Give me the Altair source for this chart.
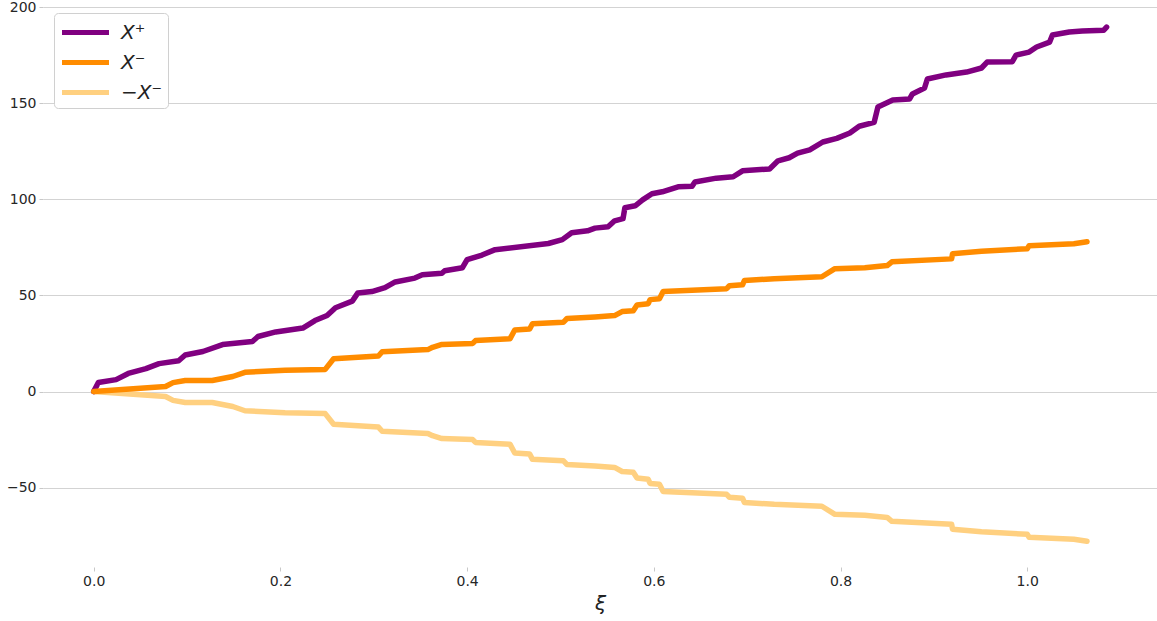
import altair as alt
import pandas as pd

# Cumulative processes against xi
xi_plus = [0.0, 0.005, 0.024, 0.037, 0.056, 0.070, 0.091, 0.098, 0.117, 0.138,
           0.170, 0.176, 0.195, 0.224, 0.237, 0.250, 0.259, 0.277, 0.283, 0.298,
           0.312, 0.323, 0.344, 0.352, 0.373, 0.376, 0.395, 0.400, 0.416, 0.430,
           0.487, 0.502, 0.512, 0.529, 0.537, 0.551, 0.558, 0.567, 0.569, 0.580,
           0.588, 0.598, 0.609, 0.626, 0.641, 0.644, 0.667, 0.685, 0.695, 0.724,
           0.733, 0.745, 0.754, 0.767, 0.781, 0.796, 0.810, 0.820, 0.836, 0.840,
           0.856, 0.874, 0.877, 0.890, 0.893, 0.913, 0.935, 0.951, 0.957, 0.984,
           0.988, 1.002, 1.010, 1.024, 1.027, 1.045, 1.059, 1.082, 1.085]
x_plus = [0.0, 4.7, 6.2, 9.4, 11.9, 14.5, 16.0, 19.0, 20.8, 24.4,
          26.0, 28.6, 31.0, 33.0, 36.9, 39.5, 43.6, 47.0, 51.3, 52.0,
          54.0, 57.0, 59.0, 60.7, 61.5, 62.8, 64.4, 68.6, 71.0, 73.8,
          77.0, 79.0, 82.6, 83.6, 85.0, 85.7, 88.8, 89.9, 95.6, 96.6,
          99.7, 102.9, 103.9, 106.5, 106.8, 109.0, 111.0, 111.7, 114.8, 115.8,
          120.0, 121.6, 124.0, 125.7, 129.8, 131.7, 134.5, 138.0, 140.0, 148.0,
          151.7, 152.2, 154.8, 157.9, 162.6, 164.7, 166.2, 168.3, 171.4, 171.6,
          175.0, 176.6, 179.2, 181.8, 185.5, 187.0, 187.5, 188.0, 189.6]

xi_minus = [0.0, 0.077, 0.085, 0.098, 0.127, 0.149, 0.162, 0.205, 0.248, 0.257,
            0.305, 0.309, 0.358, 0.363, 0.373, 0.406, 0.409, 0.446, 0.451, 0.467,
            0.470, 0.503, 0.507, 0.537, 0.558, 0.566, 0.578, 0.582, 0.594, 0.596,
            0.606, 0.610, 0.678, 0.681, 0.695, 0.697, 0.729, 0.780, 0.794, 0.826,
            0.850, 0.855, 0.919, 0.920, 0.951, 1.000, 1.002, 1.050, 1.064]
x_minus = [0.0, 2.6, 4.6, 5.7, 5.7, 7.8, 10.0, 11.0, 11.5, 17.0,
           18.5, 20.7, 21.8, 23.0, 24.5, 25.0, 26.5, 27.5, 32.0, 32.5,
           35.3, 36.0, 38.0, 38.8, 39.5, 41.6, 42.0, 45.0, 45.7, 47.8,
           48.2, 52.0, 53.5, 55.0, 55.5, 57.7, 58.7, 59.7, 63.9, 64.4,
           65.5, 67.5, 69.0, 71.7, 73.0, 74.3, 75.8, 76.9, 77.9]

names = ["X⁺", "X⁻", "−X⁻"]
colors = ["#800080", "#ff8c00", "#ffd080"]


def frame(name, xs, ys):
    return pd.DataFrame({"series": name, "xi": xs, "value": ys,
                         "idx": list(range(len(xs)))})


df_plus = frame(names[0], xi_plus, x_plus)
df_minus = frame(names[1], xi_minus, x_minus)
df_neg = frame(names[2], xi_minus, [-v for v in x_minus])

x_enc = alt.X("xi:Q",
              scale=alt.Scale(domain=[-0.0543, 1.139], nice=False, zero=False),
              axis=alt.Axis(title="ξ", values=[0, 0.2, 0.4, 0.6, 0.8, 1.0],
                            format=".1f", grid=False))
y_enc = alt.Y("value:Q",
              scale=alt.Scale(domain=[-91.3, 201.6], nice=False, zero=False),
              axis=alt.Axis(title=None, values=[-50, 0, 50, 100, 150, 200],
                            grid=True))
color_enc = alt.Color("series:N",
                      scale=alt.Scale(domain=names, range=colors),
                      legend=alt.Legend(title=None, orient="none",
                                        legendX=11, legendY=9))


def line(df):
    return alt.Chart(df).mark_line(strokeWidth=5.5, strokeCap="round",
                                   strokeJoin="round").encode(
        x=x_enc, y=y_enc, color=color_enc, order="idx:Q")


chart = alt.layer(line(df_neg), line(df_plus), line(df_minus)).properties(
    width=1114, height=563,
    padding={"left": 43, "top": 4, "right": 0, "bottom": 54},
    autosize=alt.AutoSizeParams(type="none"),
).configure_view(stroke=None).configure_axis(
    domain=False,
    tickColor="#c8c8c8",
    tickSize=4,
    labelFont="DejaVu Sans",
    labelFontSize=14,
    labelColor="#262626",
    labelPadding=3,
    gridColor="#d3d3d3",
    gridWidth=1,
    titleFont="DejaVu Sans",
    titleFontSize=20,
    titleFontStyle="italic",
    titleFontWeight="normal",
    titleColor="#222222",
    titlePadding=5,
).configure_legend(
    # a wide horizontal path keeps the legend rows compact
    symbolType="M-2,0H2",
    symbolStrokeWidth=5,
    symbolSize=552,
    symbolOffset=12,
    labelFont="DejaVu Sans",
    labelFontSize=20,
    labelFontStyle="italic",
    labelColor="#222222",
    labelOffset=21,
    rowPadding=5,
    padding=5,
    strokeColor="#d0d0d0",
    fillColor="white",
    cornerRadius=4,
)

chart.save("out.html", embed_options={"renderer": "svg", "actions": False})
